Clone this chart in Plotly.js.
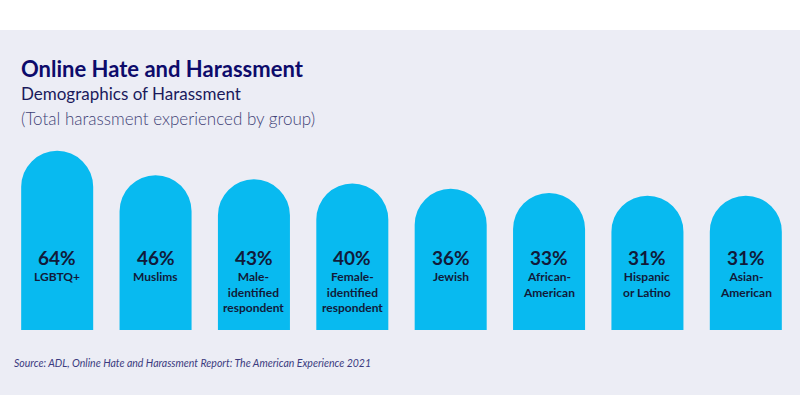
<!DOCTYPE html>
<html>
<head>
<meta charset="utf-8">
<script src="https://cdn.plot.ly/plotly-3.0.1.min.js"></script>
<style>
  html, body { margin: 0; padding: 0; background: #ffffff; }
  #chart {
    width: 800px; height: 397px;
    background: linear-gradient(to bottom, #ffffff 0px, #ffffff 30px, #ecedf5 30px, #ecedf5 395px, #ffffff 395px);
  }
</style>
</head>
<body>
<div id="chart"></div>
<script>
// ---- Data ----
const categories = ['LGBTQ+', 'Muslims', 'Male-identified respondent', 'Female-identified respondent',
                    'Jewish', 'African-American', 'Hispanic or Latino', 'Asian-American'];
const labelLines = ['LGBTQ+', 'Muslims', 'Male-<br>identified<br>respondent', 'Female-<br>identified<br>respondent',
                    'Jewish', 'African-<br>American', 'Hispanic<br>or Latino', 'Asian-<br>American'];
const values = [64, 46, 43, 40, 36, 33, 31, 31];

const titleText = 'Online Hate and Harassment';
const subtitleText = 'Demographics of Harassment';
const noteText = '(Total harassment experienced by group)';
const sourceText = 'Source: ADL, Online Hate and Harassment Report: The American Experience 2021';

// ---- Layout helpers ----
const W = 800, H = 397;
const M = { l: 8, r: 5, t: 140, b: 67 };
const plotW = W - M.l - M.r, plotH = H - M.t - M.b;
const xp = px => (px - M.l) / plotW;
const yp = py => (H - M.b - py) / plotH;

const AXIS_MIN = -68;      // the design's bars are not zero-based
const YMAX = 72;
const BASE = AXIS_MIN - 40; // start below the plot edge so only the top is rounded

const FONT = 'Lato, "Open Sans", sans-serif';
const barColor = '#08baf0';
const textDark = '#111a3a';

const trace = {
  type: 'bar',
  x: categories,
  y: values.map(v => v - BASE),
  base: BASE,
  marker: { color: barColor, cornerradius: '50%' },
  hoverinfo: 'skip'
};

const annotations = [];
categories.forEach((c, i) => {
  annotations.push({
    x: c, xref: 'x', y: yp(257), yref: 'paper',
    text: '<b>' + values[i] + '%</b>',
    showarrow: false, xanchor: 'center', yanchor: 'middle',
    font: { family: FONT, size: 19, color: textDark }
  });
  annotations.push({
    x: c, xref: 'x', y: yp(267), yref: 'paper',
    text: '<b>' + labelLines[i] + '</b>',
    showarrow: false, xanchor: 'center', yanchor: 'top', align: 'center',
    font: { family: FONT, size: 12, color: textDark }
  });
});

annotations.push({
  x: xp(19), xref: 'paper', y: yp(69), yref: 'paper',
  text: '<b>' + titleText + '</b>', showarrow: false, xanchor: 'left', yanchor: 'middle',
  font: { family: FONT, size: 22, color: '#0d0b6b' }
});
annotations.push({
  x: xp(19), xref: 'paper', y: yp(94), yref: 'paper',
  text: subtitleText, showarrow: false, xanchor: 'left', yanchor: 'middle',
  font: { family: FONT, size: 17, color: '#1b1a5c' }
});
annotations.push({
  x: xp(19), xref: 'paper', y: yp(118), yref: 'paper',
  text: noteText, showarrow: false, xanchor: 'left', yanchor: 'middle',
  font: { family: FONT, size: 17, weight: 300, color: '#3f4276' }
});
annotations.push({
  x: xp(12), xref: 'paper', y: yp(363), yref: 'paper',
  text: sourceText, showarrow: false, xanchor: 'left', yanchor: 'middle',
  font: { family: FONT, size: 10.5, style: 'italic', color: '#3b3b80' }
});

const layout = {
  width: W, height: H,
  margin: M,
  paper_bgcolor: 'rgba(0,0,0,0)',
  plot_bgcolor: 'rgba(0,0,0,0)',
  bargap: 0.268,
  showlegend: false,
  xaxis: { type: 'category', visible: false, fixedrange: true },
  yaxis: { range: [AXIS_MIN, YMAX], visible: false, fixedrange: true },
  annotations: annotations,
  hovermode: false
};

Plotly.newPlot('chart', [trace], layout, { staticPlot: true, displayModeBar: false });
</script>
</body>
</html>
